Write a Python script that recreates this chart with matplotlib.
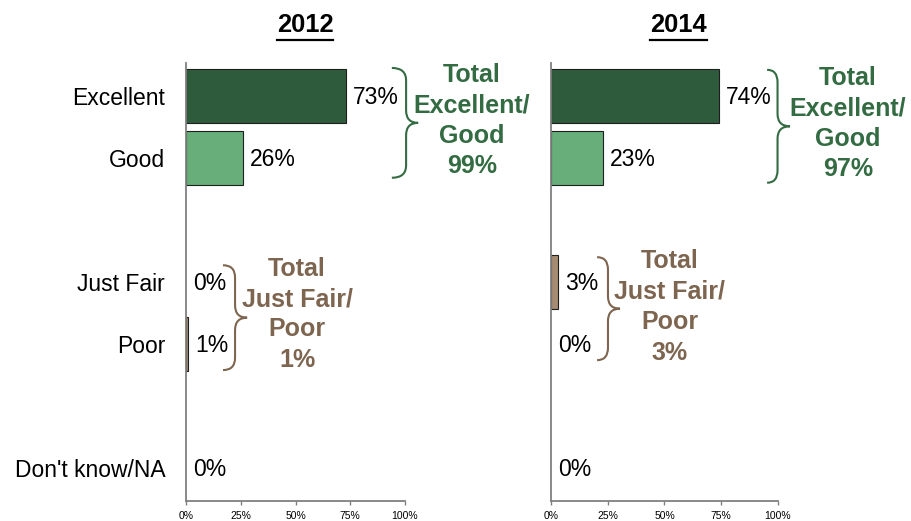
import numpy as np
import matplotlib
matplotlib.use("Agg")
import matplotlib.pyplot as plt
from matplotlib.path import Path
from matplotlib.patches import PathPatch
from matplotlib.lines import Line2D

plt.rcParams['font.family'] = ['Liberation Sans', 'DejaVu Sans']

# 数据
categories = ["Excellent", "Good", "Just Fair", "Poor", "Don't know/NA"]
slots = [0, 1, 3, 4, 6]          # 空出两行做分组间隔
years = ["2012", "2014"]
vals_2012 = [73, 26, 0, 1, 0]
vals_2014 = [74, 23, 3, 0, 0]
total_good = [99, 97]
total_fair = [1, 3]
xticks = [0, 25, 50, 75, 100]

dark_green = "#2f5b3d"
light_green = "#67ae7a"
brown_bar = "#a68b72"
green_txt = "#336b42"
brown_txt = "#7d6550"
bar_colors = [dark_green, light_green, brown_bar, brown_bar, brown_bar]

W, H = 912, 521
fig = plt.figure(figsize=(W / 100, H / 100), dpi=100)

def px_axes(x0, x1, y0, y1):
    return fig.add_axes([x0 / W, 1 - y1 / H, (x1 - x0) / W, (y1 - y0) / H])

ax1 = px_axes(186, 405, 63, 501)
ax2 = px_axes(551, 778, 63, 501)


def brace(ax, x0, xv, xt, ytop, ybot, color, r=0.2):
    ym = (ytop + ybot) / 2
    verts = [(x0, ytop), (xv, ytop), (xv, ytop + r),
             (xv, ym - r),
             (xv, ym), (xt, ym),
             (xv, ym), (xv, ym + r),
             (xv, ybot - r),
             (xv, ybot), (x0, ybot)]
    codes = [Path.MOVETO, Path.CURVE3, Path.CURVE3,
             Path.LINETO,
             Path.CURVE3, Path.CURVE3,
             Path.CURVE3, Path.CURVE3,
             Path.LINETO,
             Path.CURVE3, Path.CURVE3]
    ax.add_patch(PathPatch(Path(verts, codes), fc="none", ec=color,
                           lw=1.5, clip_on=False))


def draw_panel(ax, vals, show_labels):
    # 0% 的条不画边框
    lws = [0.8 if v > 0 else 0 for v in vals]
    ax.barh(slots, vals, height=0.87, color=bar_colors,
            edgecolor="#1e1e1e", linewidth=lws)
    for s, v in zip(slots, vals):
        ax.annotate(f"{v}%", (v, s), xytext=(5, -1), textcoords="offset points",
                    va="center", ha="left", fontsize=16.5)
    ax.set_xlim(0, 100)
    ax.set_ylim(6.53, -0.53)
    ax.set_xticks(xticks)
    ax.set_xticklabels([f"{t}%" for t in xticks], fontsize=7.5)
    ax.tick_params(axis="x", length=3, width=1, color="#808080", pad=4)
    ax.set_yticks(slots)
    if show_labels:
        ax.set_yticklabels(categories, fontsize=16.5)
    else:
        ax.set_yticklabels([])
    ax.tick_params(axis="y", length=0, pad=15)
    for sp in ["top", "right"]:
        ax.spines[sp].set_visible(False)
    for sp in ["left", "bottom"]:
        ax.spines[sp].set_color("#808080")
        ax.spines[sp].set_linewidth(1.3)


draw_panel(ax1, vals_2012, True)
draw_panel(ax2, vals_2014, False)

# 大括号和合计说明
brace(ax1, 94, 100.5, 106, -0.45, 1.32, green_txt)
brace(ax2, 95.2, 99.8, 105.3, -0.42, 1.40, green_txt)
brace(ax1, 16.9, 22.4, 27.9, 2.73, 4.42, brown_txt)
brace(ax2, 20.3, 25.1, 30.4, 2.60, 4.26, brown_txt)

kw = dict(ha="center", va="center", fontsize=18, fontweight="bold",
          linespacing=1.34, clip_on=False)
ax1.text(130.6, 0.40, f"Total\nExcellent/\nGood\n{total_good[0]}%",
         color=green_txt, **kw)
ax2.text(130.8, 0.45, f"Total\nExcellent/\nGood\n{total_good[1]}%",
         color=green_txt, **kw)
ax1.text(50.7, 3.52, f"Total\nJust Fair/\nPoor\n{total_fair[0]}%",
         color=brown_txt, **kw)
ax2.text(52.4, 3.40, f"Total\nJust Fair/\nPoor\n{total_fair[1]}%",
         color=brown_txt, **kw)

# 年份标题（加下划线）
fig.canvas.draw()
renderer = fig.canvas.get_renderer()
for yr, cx in zip(years, [305, 678.5]):
    t = fig.text(cx / W, 1 - 25 / H, yr, ha="center", va="center",
                 fontsize=18.4, fontweight="bold")
    bb = t.get_window_extent(renderer)
    uy = 1 - 40 / H
    fig.add_artist(Line2D([bb.x0 / W, bb.x1 / W], [uy, uy], color="black",
                          lw=1.6, transform=fig.transFigure))

fig.savefig("out.png", dpi=100)
